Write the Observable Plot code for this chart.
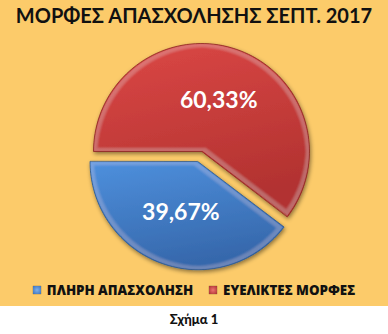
<!DOCTYPE html>
<html><head><meta charset="utf-8">
<script src="https://cdn.jsdelivr.net/npm/d3@7"></script>
<script src="https://cdn.jsdelivr.net/npm/@observablehq/plot@0.6"></script>
<style>
body{margin:0;background:#fff;font-family:Lato,"Open Sans",sans-serif;}
#chart{width:388px;height:306px;background:#FCCB6A;position:relative;overflow:hidden}
#title{position:absolute;top:3px;left:0;width:388px;text-align:center;font-weight:bold;font-size:20px;color:#111;white-space:nowrap}
#plot{position:absolute;top:34px;left:0}
#legend{position:absolute;top:281px;left:0;width:388px;display:flex;justify-content:center;gap:16px;font-family:"Open Sans",sans-serif;font-weight:800;font-size:13.3px;color:#111;white-space:nowrap}
#legend .it{display:flex;align-items:center;gap:6px}
#legend .sw{width:8px;height:8px;display:inline-block;box-shadow:0 0 1px rgba(0,0,0,.6)}
#caption{text-align:center;font-weight:900;font-size:13px;height:28px;line-height:26px;color:#111}
</style></head>
<body>
<div id="chart">
  <div id="title"></div>
  <div id="plot"></div>
  <div id="legend"></div>
</div>
<div id="caption"></div>
<script>
const title = "ΜΟΡΦΕΣ ΑΠΑΣΧΟΛΗΣΗΣ ΣΕΠΤ. 2017";
const caption = "Σχήμα 1";
const categories = ["ΠΛΗΡΗ ΑΠΑΣΧΟΛΗΣΗ", "ΕΥΕΛΙΚΤΕΣ ΜΟΡΦΕΣ"];
const values = [39.67, 60.33];
const explode = [0.1, 0];
const gradients = ["url(#gBlue)", "url(#gRed)"];
const swatch = ["radial-gradient(#7DB0EE,#3A70B8)", "radial-gradient(#EE7270,#A8302E)"];

document.getElementById("title").textContent = title;
document.getElementById("caption").textContent = caption;
const leg = document.getElementById("legend");
categories.forEach((c, i) => {
  const it = document.createElement("span"); it.className = "it";
  const sw = document.createElement("span"); sw.className = "sw"; sw.style.background = swatch[i];
  const t = document.createElement("span"); t.textContent = c;
  it.append(sw, t); leg.append(it);
});

const W = 388, H = 246, U = 108, cx = 201, cy = 117;
const total = d3.sum(values);
const start = 1.5 * Math.PI - 2 * Math.PI * values[0] / total;
const arcs = d3.pie().sort(null).startAngle(start).endAngle(start + 2 * Math.PI)(values);

const slices = [], labels = [];
arcs.forEach((a, i) => {
  const mid = (a.startAngle + a.endAngle) / 2;
  const ox = Math.sin(mid) * explode[i], oy = Math.cos(mid) * explode[i];
  const pts = [{x: ox, y: oy, k: i}];
  const n = 90;
  for (let j = 0; j <= n; j++) {
    const t = a.startAngle + (a.endAngle - a.startAngle) * j / n;
    pts.push({x: ox + Math.sin(t), y: oy + Math.cos(t), k: i});
  }
  slices.push(pts);
  labels.push({x: ox + Math.sin(mid) * 0.5, y: oy + Math.cos(mid) * 0.5,
    text: values[i].toFixed(2).replace(".", ",") + "%"});
});

const plot = Plot.plot({
  width: W, height: H, margin: 0,
  x: {domain: [-cx / U, (W - cx) / U], axis: null},
  y: {domain: [-(H - cy) / U, cy / U], axis: null},
  style: {background: "transparent", overflow: "visible"},
  marks: [
    ...slices.map((s, i) => Plot.line(s, {x: "x", y: "y", curve: "linear-closed",
      fill: gradients[i], stroke: i ? "#8A2826" : "#2C5890", strokeWidth: 0.8})),
    Plot.text(labels, {x: "x", y: "y", text: "text", fill: "white", fontSize: 23,
      fontWeight: "bold", fontFamily: "Lato, 'Open Sans', sans-serif"})
  ]
});
const defs = d3.create("svg:defs");
defs.html(`
<linearGradient id="gRed" x1="0" y1="0" x2="0.3" y2="1">
  <stop offset="0" stop-color="#DC4846"/><stop offset="1" stop-color="#B23230"/>
</linearGradient>
<linearGradient id="gBlue" x1="0" y1="0" x2="0.3" y2="1">
  <stop offset="0" stop-color="#4E90DD"/><stop offset="1" stop-color="#3668AC"/>
</linearGradient>
<filter id="pieFx" x="-20%" y="-20%" width="140%" height="140%">
  <feGaussianBlur in="SourceAlpha" stdDeviation="2" result="sb"/>
  <feOffset in="sb" dx="1" dy="2" result="so"/>
  <feFlood flood-color="#000" flood-opacity="0.45"/>
  <feComposite in2="so" operator="in" result="shadow"/>
  <feMorphology in="SourceAlpha" operator="erode" radius="1" result="e1"/>
  <feMorphology in="SourceAlpha" operator="erode" radius="4" result="e4"/>
  <feGaussianBlur in="e4" stdDeviation="1.2" result="e4b"/>
  <feComposite in="e1" in2="e4b" operator="out" result="rim"/>
  <feFlood flood-color="#fff" flood-opacity="0.12"/>
  <feComposite in2="rim" operator="in" result="rimc"/>
  <feMerge><feMergeNode in="shadow"/><feMergeNode in="SourceGraphic"/><feMergeNode in="rimc"/></feMerge>
</filter>`);
plot.insertBefore(defs.node(), plot.firstChild);
plot.querySelectorAll("g[aria-label=line] path").forEach(p => p.setAttribute("filter", "url(#pieFx)"));
document.getElementById("plot").append(plot);
</script>
</body></html>
